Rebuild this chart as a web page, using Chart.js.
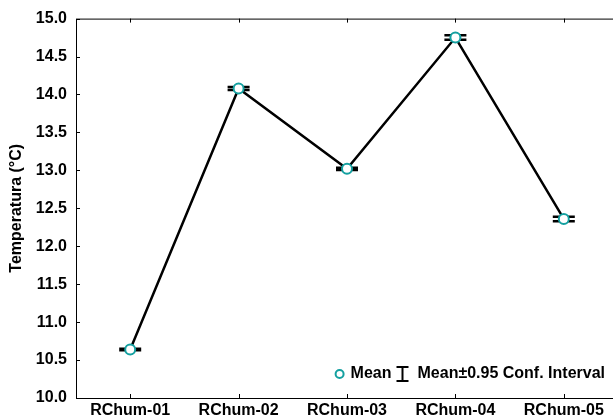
<!DOCTYPE html>
<html>
<head>
<meta charset="utf-8">
<script src="https://cdn.jsdelivr.net/npm/chart.js@4/dist/chart.umd.min.js"></script>
<style>
  html, body { margin: 0; padding: 0; background: #fff; overflow: hidden; }
  #wrap { width: 625px; height: 419px; position: relative; }
</style>
</head>
<body>
<div id="wrap"><canvas id="myChart"></canvas></div>
<script>
// dados
const categorias = ['RChum-01', 'RChum-02', 'RChum-03', 'RChum-04', 'RChum-05'];
const medias = [10.64, 14.08, 13.02, 14.75, 12.36];
const intervalo = [0.01, 0.02, 0.015, 0.03, 0.03]; // meia largura do IC 95%
const yMin = 10.0, yMax = 15.0, yPasso = 0.5;

const fonte = { family: '"Liberation Sans", Arial, sans-serif', size: 16, weight: 'bold' };
const teal = '#14a0a0';

// moldura, marcas internas dos eixos e barras de erro
const moldura = {
    id: 'moldura',
    beforeDatasetsDraw(chart) {
        const { ctx, scales: { x, y } } = chart;
        ctx.save();
        ctx.strokeStyle = '#000';
        ctx.lineWidth = 2.5;
        medias.forEach((m, i) => {
            const px = x.getPixelForValue(i);
            const y1 = y.getPixelForValue(m + intervalo[i]);
            const y2 = y.getPixelForValue(m - intervalo[i]);
            ctx.beginPath();
            ctx.moveTo(px - 11, y1); ctx.lineTo(px + 11, y1);
            ctx.moveTo(px - 11, y2); ctx.lineTo(px + 11, y2);
            ctx.moveTo(px, y1); ctx.lineTo(px, y2);
            ctx.stroke();
        });
        ctx.restore();
    },
    afterDraw(chart) {
        const { ctx, chartArea: a, scales: { x, y } } = chart;
        ctx.save();
        ctx.strokeStyle = '#000';
        ctx.lineWidth = 1;
        ctx.strokeRect(a.left + 0.5, a.top + 0.5, a.right - a.left, a.bottom - a.top);
        ctx.beginPath();
        y.ticks.forEach((t, i) => {
            const py = Math.round(y.getPixelForTick(i)) + 0.5;
            ctx.moveTo(a.left, py); ctx.lineTo(a.left + 4, py);
        });
        x.ticks.forEach((t, i) => {
            const px = Math.round(x.getPixelForTick(i)) + 0.5;
            ctx.moveTo(px, a.bottom); ctx.lineTo(px, a.bottom - 4);
            ctx.moveTo(px, a.top); ctx.lineTo(px, a.top + 4);
        });
        ctx.stroke();

        // legenda
        ctx.font = `bold ${fonte.size}px ${fonte.family}`;
        ctx.fillStyle = '#000';
        ctx.textBaseline = 'middle';
        const ly = a.bottom - 24;
        const t2 = 'Mean\u00b10.95 Conf. Interval';
        const t1 = 'Mean';
        const x2 = 605 - ctx.measureText(t2).width;
        const xi = x2 - 15;
        const x1 = xi - 11 - ctx.measureText(t1).width;
        const xc = x1 - 11;
        ctx.fillText(t2, x2, ly);
        ctx.fillText(t1, x1, ly);
        ctx.lineWidth = 2;
        ctx.beginPath();
        ctx.moveTo(xi - 6, ly - 7); ctx.lineTo(xi + 6, ly - 7);
        ctx.moveTo(xi - 6, ly + 7); ctx.lineTo(xi + 6, ly + 7);
        ctx.moveTo(xi, ly - 7); ctx.lineTo(xi, ly + 7);
        ctx.stroke();
        ctx.beginPath();
        ctx.arc(xc, ly, 4, 0, Math.PI * 2);
        ctx.fillStyle = '#fff';
        ctx.fill();
        ctx.strokeStyle = teal;
        ctx.stroke();
        ctx.restore();
    }
};

const ctx = document.getElementById('myChart');
new Chart(ctx, {
    type: 'line',
    data: {
        labels: categorias,
        datasets: [{
            label: 'Mean',
            data: medias,
            borderColor: '#000',
            borderWidth: 2.5,
            pointRadius: 5,
            pointBorderWidth: 2,
            pointBorderColor: teal,
            pointBackgroundColor: '#fff',
            tension: 0
        }]
    },
    options: {
        responsive: true,
        maintainAspectRatio: false,
        animation: false,
        layout: { padding: { top: 18, left: 0, right: 1, bottom: 0 } },
        plugins: { legend: { display: false }, tooltip: { enabled: false } },
        scales: {
            x: {
                offset: true,
                grid: { display: false, drawTicks: false },
                border: { display: false },
                ticks: { color: '#000', font: fonte, padding: 3, autoSkip: false, maxRotation: 0 },
                afterFit(scale) { scale.height = 21; }
            },
            y: {
                min: yMin,
                max: yMax,
                grid: { display: false, drawTicks: false },
                border: { display: false },
                ticks: {
                    stepSize: yPasso,
                    color: '#000',
                    font: fonte,
                    padding: 9,
                    callback: v => v.toFixed(1)
                },
                title: {
                    display: true,
                    text: 'Temperatura (°C)',
                    color: '#000',
                    font: { family: fonte.family, size: 16, weight: 'bold' },
                    padding: { top: 7, bottom: 0 }
                },
                afterFit(scale) { scale.width = 76; }
            }
        }
    },
    plugins: [moldura]
});
</script>
</body>
</html>
